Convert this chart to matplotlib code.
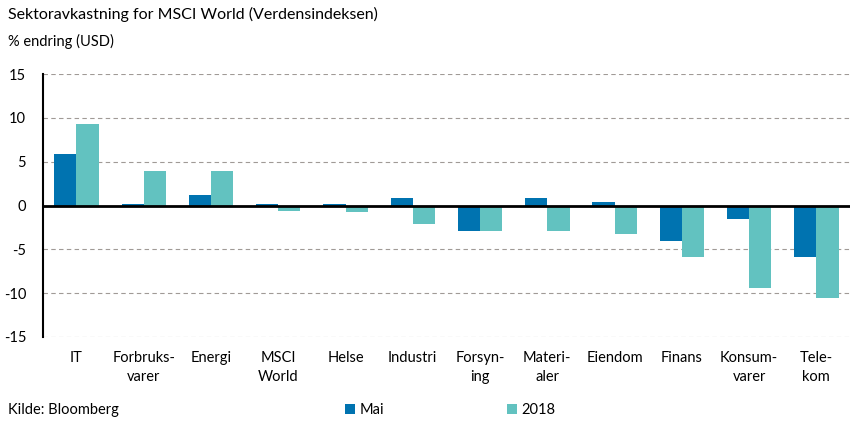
import numpy as np
import matplotlib
matplotlib.use("Agg")
import matplotlib.pyplot as plt

plt.rcParams['font.family'] = ['Lato', 'DejaVu Sans']

categories = ["IT", "Forbruks-\nvarer", "Energi", "MSCI\nWorld", "Helse", "Industri",
              "Forsyn-\ning", "Materi-\naler", "Eiendom", "Finans", "Konsum-\nvarer", "Tele-\nkom"]
mai = [5.9, 0.2, 1.15, 0.2, 0.2, 0.9, -2.9, 0.9, 0.4, -4.0, -1.5, -5.85]
aar_2018 = [9.35, 3.9, 3.9, -0.6, -0.7, -2.1, -2.9, -2.9, -3.3, -5.85, -9.4, -10.55]
yticks = [-15, -10, -5, 0, 5, 10, 15]

c_mai = "#0073b0"
c_2018 = "#62c2c0"

fig = plt.figure(figsize=(8.56, 4.26), dpi=100)
ax = fig.add_axes([0.050, 0.209, 0.943, 0.617])

x = np.arange(len(categories))
w = 0.33
ax.bar(x - w / 2, mai, width=w, color=c_mai, label="Mai", zorder=3)
ax.bar(x + w / 2, aar_2018, width=w, color=c_2018, label="2018", zorder=3)

ax.set_xlim(-0.5, len(categories) - 0.5)
ax.set_ylim(-15, 15)
ax.set_yticks(yticks)
ax.set_yticklabels([str(v) for v in yticks], fontsize=10.5)
ax.set_xticks(x)
ax.set_xticklabels(categories, fontsize=10.5, linespacing=1.5, va="top")
ax.tick_params(axis="x", length=0, pad=10)
ax.tick_params(axis="y", length=0, pad=12)

# stiplede rutenett-linjer
for v in yticks:
    if v != 0:
        ax.axhline(v, color="#a09a96", lw=0.8, ls=(0, (4, 3)), zorder=1)
ax.axhline(0, color="black", lw=2, zorder=4)

for s in ["top", "right", "bottom"]:
    ax.spines[s].set_visible(False)
ax.spines["left"].set_linewidth(1.5)
ax.spines["left"].set_zorder(5)

fig.text(0.009, 0.965, "Sektoravkastning for MSCI World (Verdensindeksen)",
         fontsize=11.5, va="center", ha="left")
fig.text(0.009, 0.903, "% endring (USD)", fontsize=10.5, va="center", ha="left")
fig.text(0.009, 0.038, "Kilde: Bloomberg", fontsize=10.5, va="center", ha="left")

fig.legend(loc="center left", bbox_to_anchor=(0.403, 0.038), ncol=2, frameon=False,
           fontsize=10.5, handlelength=0.7, handleheight=0.7, handletextpad=0.3,
           columnspacing=8.4, borderaxespad=0, borderpad=0)

fig.savefig("out.png", dpi=100)
